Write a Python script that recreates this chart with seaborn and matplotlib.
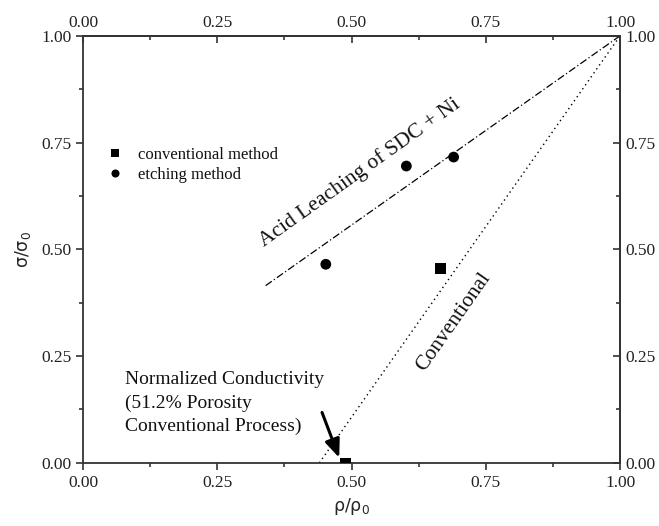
import numpy as np
import pandas as pd
import seaborn as sn
import matplotlib.pyplot as plt

# measured points
conv_x = [0.665, 0.4885]
conv_y = [0.455, 0.0]
etch_x = [0.452, 0.602, 0.690]
etch_y = [0.465, 0.695, 0.716]

# guide lines
acid_x = [0.34, 1.00]
acid_y = [0.415, 1.00]
conv_line_x = [0.44, 1.00]
conv_line_y = [0.00, 1.00]

ticks = [0.00, 0.25, 0.50, 0.75, 1.00]
tick_labels = ["0.00", "0.25", "0.50", "0.75", "1.00"]
minor = [0.125, 0.375, 0.625, 0.875]

sn.set_style("ticks")
plt.rcParams['font.family'] = ['Liberation Serif', 'DejaVu Serif']
plt.rcParams['mathtext.fontset'] = 'dejavusans'

fig = plt.figure(figsize=(6.59, 5.26), dpi=100)
ax = fig.add_axes([0.126, 0.12, 0.815, 0.812])

pts = pd.DataFrame({
    'x': conv_x + etch_x,
    'y': conv_y + etch_y,
    'kind': ['conventional method'] * len(conv_x) + ['etching method'] * len(etch_x),
})

sn.lineplot(x=acid_x, y=acid_y, ax=ax, color='black', lw=0.9,
            linestyle=(0, (6, 2, 1, 2)))
sn.lineplot(x=conv_line_x, y=conv_line_y, ax=ax, color='black', lw=1.0,
            linestyle=(0, (1, 2.5)))
sn.scatterplot(data=pts, x='x', y='y', style='kind', ax=ax,
               markers={'conventional method': 's', 'etching method': 'o'},
               color='black', s=60, edgecolor='black', linewidth=0,
               zorder=5)

leg = ax.legend(loc='upper left', bbox_to_anchor=(0.009, 0.775), frameon=False,
                fontsize=12, handletextpad=0.6, labelspacing=0.25,
                markerscale=0.75, handlelength=1.5)
for t in leg.get_texts():
    t.set_color('#111111')

ax.set_xlim(0, 1)
ax.set_ylim(0, 1)
ax.set_xticks(ticks)
ax.set_xticklabels(tick_labels)
ax.set_yticks(ticks)
ax.set_yticklabels(tick_labels)
ax.set_xticks(minor, minor=True)
ax.set_yticks(minor, minor=True)
ax.tick_params(which='major', direction='out', length=5, width=1.1,
               labelsize=12.5, colors='#222222')
ax.tick_params(which='minor', direction='out', length=3, width=1.1)

top = ax.secondary_xaxis('top')
top.set_xticks(ticks)
top.set_xticklabels(tick_labels)
top.set_xticks(minor, minor=True)
top.tick_params(which='major', direction='in', length=5, width=1.1,
                labelsize=12.5, colors='#222222')
top.tick_params(which='minor', direction='in', length=3, width=1.1)

right = ax.secondary_yaxis('right')
right.set_yticks(ticks)
right.set_yticklabels(tick_labels)
right.set_yticks(minor, minor=True)
right.tick_params(which='major', direction='in', length=5, width=1.1,
                  labelsize=12.5, colors='#222222')
right.tick_params(which='minor', direction='in', length=3, width=1.1)

for sp in ax.spines.values():
    sp.set_linewidth(1.3)
    sp.set_color('#333333')
    sp.set_visible(True)
top.spines['top'].set_linewidth(1.3)
top.spines['top'].set_color('#333333')
right.spines['right'].set_linewidth(1.3)
right.spines['right'].set_color('#333333')

ax.set_xlabel('ρ/ρ$_0$', fontsize=12.5, family='DejaVu Sans', labelpad=4)
ax.set_ylabel('σ/σ$_0$', fontsize=12.5, family='DejaVu Sans', labelpad=6)

ax.text(0.515, 0.68, 'Acid Leaching of SDC + Ni', rotation=35.5,
        ha='center', va='center', fontsize=15.5, rotation_mode='anchor',
        color='#111111')
ax.text(0.69, 0.33, 'Conventional', rotation=55, ha='center',
        va='center', fontsize=15.5, rotation_mode='anchor', color='#111111')
ax.text(0.078, 0.214, 'Normalized Conductivity\n(51.2% Porosity\nConventional Process)',
        ha='left', va='top', fontsize=14, linespacing=1.45, color='#111111')
ax.annotate('', xy=(0.477, 0.012), xytext=(0.445, 0.118),
            arrowprops=dict(arrowstyle='-|>,head_length=1.1,head_width=0.45',
                            color='black', lw=2.2, shrinkA=0, shrinkB=0))

plt.savefig('out.png', dpi=100)
